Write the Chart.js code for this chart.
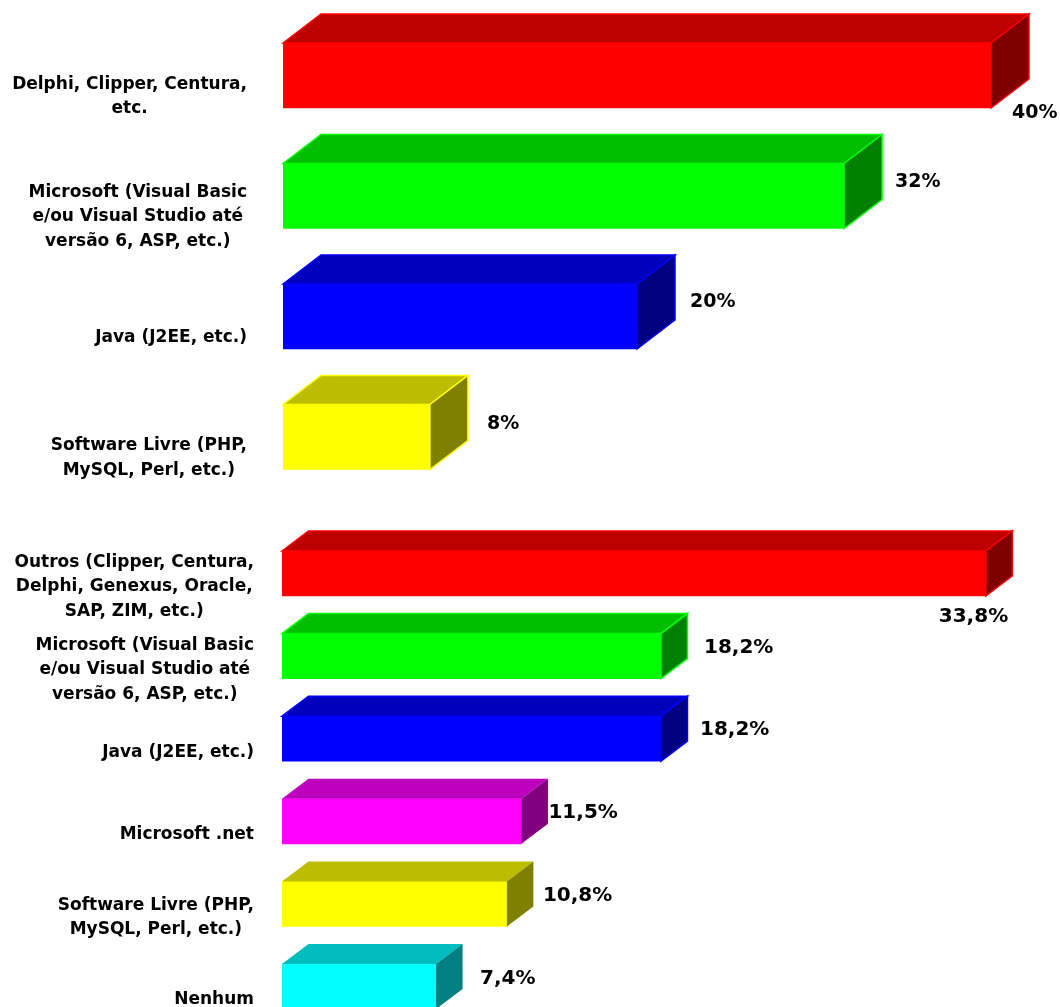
<!DOCTYPE html>
<html>
<head>
<meta charset="utf-8">
<title>Linguagens</title>
<script src="https://cdn.jsdelivr.net/npm/chart.js@4/dist/chart.umd.min.js"></script>
<style>
    html, body { margin: 0; padding: 0; background: #fff; overflow: hidden; height: 1007px; }
    canvas { position: absolute; left: 0; }
    #chartTop { top: 0; }
    #chartBottom { top: 510px; }
</style>
</head>
<body>
<canvas id="chartTop" width="1060" height="510"></canvas>
<canvas id="chartBottom" width="1060" height="520"></canvas>
<script>
// Dados do primeiro grafico
const topCategories = [
    ['Delphi, Clipper, Centura,', 'etc.'],
    ['Microsoft (Visual Basic', 'e/ou Visual Studio até', 'versão 6, ASP, etc.)'],
    ['Java (J2EE, etc.)'],
    ['Software Livre (PHP,', 'MySQL, Perl, etc.)']
];
const topValues = [40, 31.7, 20, 8.3];
const topColors = ['#ff0000', '#00ff00', '#0000ff', '#ffff00'];

// Dados do segundo grafico
const bottomCategories = [
    ['Outros (Clipper, Centura,', 'Delphi, Genexus, Oracle,', 'SAP, ZIM, etc.)'],
    ['Microsoft (Visual Basic', 'e/ou Visual Studio até', 'versão 6, ASP, etc.)'],
    ['Java (J2EE, etc.)'],
    ['Microsoft .net'],
    ['Software Livre (PHP,', 'MySQL, Perl, etc.)'],
    ['Nenhum']
];
const bottomValues = [33.8, 18.2, 18.2, 11.5, 10.8, 7.4];
const bottomColors = ['#ff0000', '#00ff00', '#0000ff', '#ff00ff', '#ffff00', '#00ffff'];

const LABEL_FONT = 'bold 17px "DejaVu Sans"';

// escurece uma cor #rrggbb
function shade(hex, factor) {
    const n = parseInt(hex.slice(1), 16);
    const r = Math.round((n >> 16) * factor);
    const g = Math.round(((n >> 8) & 255) * factor);
    const b = Math.round((n & 255) * factor);
    return `rgb(${r},${g},${b})`;
}

function face(ctx, points, fill, edge) {
    ctx.beginPath();
    points.forEach((p, i) => i ? ctx.lineTo(p[0], p[1]) : ctx.moveTo(p[0], p[1]));
    ctx.closePath();
    ctx.fillStyle = fill;
    ctx.fill();
    if (edge) {
        ctx.strokeStyle = edge;
        ctx.lineWidth = 1.5;
        ctx.stroke();
    }
}

// desenha as faces 3D, os rotulos das categorias e os valores
const bar3dPlugin = {
    id: 'bar3d',
    afterDatasetsDraw(chart, args, opts) {
        const ctx = chart.ctx;
        const bars = chart.getDatasetMeta(0).data;
        const dataset = chart.data.datasets[0];
        ctx.save();
        bars.forEach((bar, i) => {
            const color = dataset.backgroundColor[i];
            const left = bar.base;
            const right = bar.x;
            const top = bar.y - bar.height / 2;
            const bottom = bar.y + bar.height / 2;
            const edge = opts.edges[i] ? color : null;

            face(ctx, [[left, top], [left + opts.dx, top - opts.dy], [right + opts.dx, top - opts.dy], [right, top]],
                shade(color, 0.74), edge);
            face(ctx, [[right, top], [right + opts.dx, top - opts.dy], [right + opts.dx, bottom - opts.dy], [right, bottom]],
                shade(color, 0.5), edge);

            // valor ao lado da barra
            ctx.fillStyle = '#000';
            ctx.textAlign = 'left';
            ctx.textBaseline = 'middle';
            ctx.font = opts.valueFont;
            const offset = opts.valueOffsets[i];
            const text = dataset.data[i].toFixed(opts.decimals).replace('.', ',') + '%';
            ctx.fillText(text, right + offset[0], bar.y + offset[1]);

            // categoria centrada em bloco, alinhada a direita
            const lines = chart.data.labels[i];
            ctx.font = LABEL_FONT;
            const width = Math.max(...lines.map(l => ctx.measureText(l).width));
            const y0 = bar.y + opts.labelShift - (lines.length - 1) * opts.lineHeight / 2;
            ctx.textAlign = 'center';
            lines.forEach((line, n) => {
                ctx.fillText(line, opts.labelRight - width / 2, y0 + n * opts.lineHeight);
            });
        });
        ctx.restore();
    }
};

function createChart(canvasId, labels, values, colors, cfg) {
    return new Chart(document.getElementById(canvasId), {
        type: 'bar',
        data: {
            labels: labels,
            datasets: [{
                data: values,
                backgroundColor: colors,
                borderWidth: 0,
                barThickness: cfg.thickness
            }]
        },
        options: {
            indexAxis: 'y',
            responsive: false,
            animation: false,
            layout: { padding: cfg.padding },
            scales: {
                x: { display: false, min: 0, max: cfg.max },
                y: { display: false }
            },
            plugins: {
                legend: { display: false },
                tooltip: { enabled: false },
                bar3d: cfg.bar3d
            }
        },
        plugins: [bar3dPlugin]
    });
}

createChart('chartTop', topCategories, topValues, topColors, {
    thickness: 65,
    max: 43,
    padding: { left: 283, right: 15.9, top: 15.25, bottom: 12.75 },
    bar3d: {
        dx: 38, dy: 29, decimals: 0, labelRight: 247, labelShift: 21, lineHeight: 24.5,
        valueFont: 'bold 19px "DejaVu Sans"',
        edges: [true, true, true, true],
        valueOffsets: [[21, 37.5], [51, -14], [53, -14], [57, -13]]
    }
});

createChart('chartBottom', bottomCategories, bottomValues, bottomColors, {
    thickness: 45,
    max: 36,
    padding: { left: 282, right: 28.4, top: 22.2, bottom: 2.2 },
    bar3d: {
        dx: 26.5, dy: 20, decimals: 1, labelRight: 254, labelShift: 13.5, lineHeight: 24.5,
        valueFont: 'bold 20px "DejaVu Sans"',
        edges: [true, true, true, false, false, false],
        valueOffsets: [[-47, 43], [43, -8.5], [39, -9], [27, -9], [36, -8.5], [44, -8]]
    }
});
</script>
</body>
</html>
